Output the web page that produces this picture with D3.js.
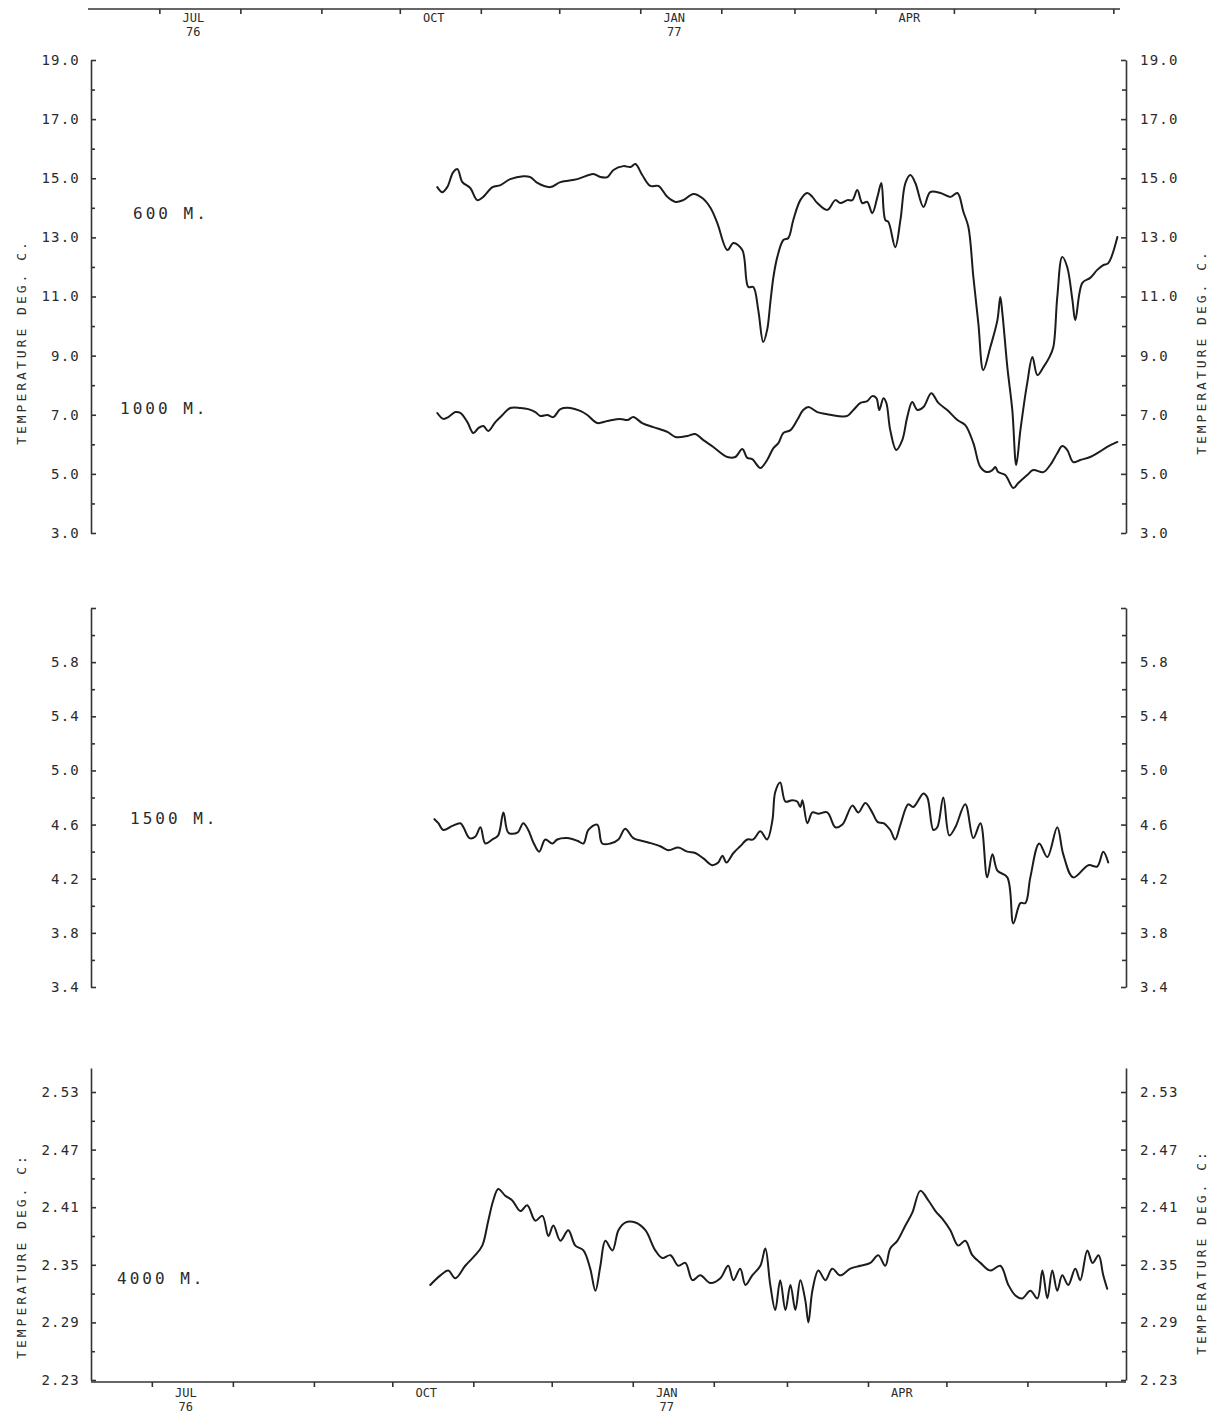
<!DOCTYPE html>
<html><head><meta charset="utf-8">
<script src="https://cdn.jsdelivr.net/npm/d3@7"></script>
<style>
html,body{margin:0;padding:0;background:#fff;}
svg{display:block;}
text{font-family:"DejaVu Sans Mono","Liberation Mono",monospace;fill:#2b2b2b;}
</style></head><body>
<svg id="chart" width="1217" height="1416"></svg>
<script>
// ---------------- DATA ----------------
// time axis: days since 1976-07-01
const recordStart = Date.UTC(1976, 6, 1);
const monthLabelDates = ["1976-07-14", "1976-10-14", "1977-01-14", "1977-04-14"];
const monthLabelTop = ["JUL", "OCT", "JAN", "APR"];
const monthLabelYear = ["76", "", "77", ""];

const depthLabels = ["600 M.", "1000 M.", "1500 M.", "4000 M."];
const axisTitleTop = "TEMPERATURE DEG. C.";
const axisTitleBottom = "TEMPERATURE DEG. C:";

// 600 m
const day600 = [107.5,109.4,111.3,113.6,115.2,117.1,120.1,122.8,125.1,128.6,131.7,135.4,140.4,143.1,145.8,150.7,154.6,161.1,167.2,169.9,172.6,174.9,178.7,181.4,183.3,185.9,189.0,192.1,195.5,198.6,201.6,205.5,208.9,212.0,214.6,218.5,220.8,224.2,226.5,228.4,230.3,232.2,233.7,234.9,236.1,237.6,239.9,241.8,243.7,246.4,249.0,251.0,252.9,256.7,259.8,261.7,264.4,266.3,268.2,270.1,272.0,273.9,275.9,277.4,278.9,280.1,282.7,284.7,286.6,288.5,290.4,293.5,296.1,300.0,303.8,306.5,308.8,310.7,312.6,314.5,316.4,319.1,321.8,322.9,323.7,325.6,327.5,329.0,330.6,333.2,335.2,337.1,339.4,341.7,343.2,344.7,346.6,348.5,350.5,351.6,354.3,357.3,360.0,362.3,364.2,367.7];
const val600 = [14.70,14.53,14.70,15.21,15.31,14.87,14.67,14.26,14.37,14.70,14.77,14.97,15.07,15.04,14.84,14.70,14.87,14.97,15.14,15.04,15.04,15.28,15.41,15.38,15.48,15.11,14.74,14.74,14.37,14.20,14.26,14.47,14.33,14.00,13.49,12.57,12.81,12.57,11.32,11.32,10.54,9.46,9.87,10.78,11.66,12.34,12.91,12.98,13.59,14.26,14.50,14.37,14.16,13.93,14.26,14.16,14.26,14.26,14.60,14.16,14.20,13.82,14.37,14.84,13.59,13.52,12.67,13.59,14.84,15.11,14.84,14.03,14.53,14.50,14.37,14.50,13.86,13.35,11.66,10.10,8.51,9.29,10.20,10.98,10.44,8.61,7.16,5.30,6.48,8.07,8.95,8.34,8.61,8.95,9.29,10.98,12.34,12.00,10.88,10.20,11.46,11.63,11.90,12.06,12.13,13.01];

// 1000 m
const day1000 = [107.5,109.8,111.7,114.4,116.3,119.0,121.3,123.2,125.1,127.0,129.7,132.4,135.4,139.3,142.3,145.0,146.9,149.6,151.9,154.6,158.4,162.2,164.9,168.7,172.6,177.5,180.2,182.5,185.9,190.2,195.5,198.6,203.2,206.2,209.3,213.1,218.5,221.5,224.2,226.1,228.0,231.1,233.7,236.1,238.0,239.9,242.6,245.2,247.5,249.5,252.9,256.7,260.5,264.4,266.7,269.4,272.0,273.9,275.5,276.6,278.2,279.3,280.8,283.1,285.4,287.3,289.2,291.2,293.5,296.5,299.2,302.6,306.5,309.5,312.6,315.3,317.9,319.9,321.0,322.1,324.8,327.9,329.8,333.2,335.5,339.4,342.0,344.7,346.6,348.5,350.8,353.5,357.3,360.0,363.8,367.7];
const val1000 = [7.06,6.86,6.92,7.09,7.06,6.75,6.38,6.55,6.62,6.45,6.75,6.99,7.23,7.23,7.19,7.09,6.96,6.99,6.92,7.19,7.23,7.13,6.99,6.72,6.79,6.86,6.82,6.92,6.72,6.58,6.42,6.25,6.28,6.35,6.14,5.91,5.57,5.57,5.84,5.54,5.50,5.20,5.47,5.87,6.04,6.38,6.48,6.82,7.16,7.26,7.09,7.02,6.96,6.96,7.16,7.40,7.46,7.63,7.56,7.16,7.56,7.40,6.48,5.81,6.14,6.92,7.43,7.16,7.26,7.73,7.40,7.16,6.82,6.65,6.04,5.23,5.06,5.13,5.23,5.06,4.96,4.52,4.69,4.96,5.13,5.06,5.30,5.70,5.94,5.81,5.40,5.47,5.57,5.70,5.91,6.08];

// 1500 m
const day1500 = [106.4,107.9,109.8,113.2,116.3,117.5,119.8,122.0,124.0,125.9,128.6,130.8,132.8,134.7,138.1,140.4,142.3,144.2,146.5,148.8,151.5,153.4,157.2,161.1,163.4,165.3,168.7,170.6,173.7,176.8,179.4,182.5,187.9,192.8,195.9,199.7,203.2,206.2,209.3,212.7,215.0,216.6,218.1,220.8,223.4,226.1,228.4,231.1,233.7,235.7,236.8,238.7,240.7,243.3,245.2,246.4,247.2,249.1,251.0,253.3,256.7,259.8,262.5,266.3,268.6,271.3,273.9,275.9,278.2,280.8,282.7,284.7,287.7,289.6,293.5,295.0,297.3,298.8,301.1,303.4,305.7,309.5,312.6,315.3,317.9,319.9,321.8,325.6,327.9,330.6,332.5,334.4,337.8,340.9,344.7,347.0,350.8,356.6,360.0,362.3,364.2];
const val1500 = [4.64,4.61,4.56,4.59,4.61,4.58,4.50,4.51,4.58,4.46,4.49,4.52,4.69,4.54,4.54,4.61,4.56,4.47,4.40,4.49,4.46,4.49,4.50,4.48,4.46,4.56,4.60,4.46,4.46,4.49,4.57,4.50,4.47,4.44,4.41,4.43,4.40,4.39,4.35,4.30,4.32,4.37,4.32,4.39,4.44,4.49,4.49,4.55,4.49,4.63,4.84,4.91,4.77,4.78,4.77,4.73,4.78,4.61,4.69,4.68,4.69,4.58,4.60,4.74,4.69,4.76,4.69,4.62,4.61,4.56,4.49,4.60,4.75,4.73,4.83,4.80,4.56,4.58,4.80,4.52,4.58,4.75,4.50,4.61,4.21,4.38,4.26,4.21,3.87,4.02,4.02,4.21,4.46,4.36,4.58,4.38,4.21,4.30,4.29,4.40,4.32];

// 4000 m
const day4000 = [104.8,108.7,111.7,114.4,118.2,122.0,124.7,127.0,128.9,130.8,133.5,136.2,139.3,141.9,145.0,147.7,150.0,151.9,154.6,157.6,160.3,163.4,166.0,168.0,169.9,171.8,174.5,176.8,179.4,183.3,187.1,190.9,193.6,196.7,199.7,202.4,205.1,208.1,212.0,215.8,218.8,220.8,223.4,225.4,228.0,231.1,233.0,234.9,236.8,238.7,240.7,242.6,244.5,246.4,248.3,249.5,251.0,253.3,256.0,258.6,261.7,265.5,269.4,273.2,276.2,278.9,280.8,283.5,286.6,289.2,292.3,295.4,298.1,300.7,303.8,306.8,309.5,312.2,315.3,319.1,322.9,326.0,328.7,331.3,334.4,337.1,339.0,340.9,342.8,344.7,346.6,348.9,351.6,353.5,356.2,358.2,360.5,362.3,363.8];
const val4000 = [2.329,2.339,2.344,2.336,2.349,2.360,2.370,2.396,2.417,2.429,2.422,2.417,2.406,2.412,2.396,2.401,2.380,2.391,2.375,2.386,2.370,2.365,2.346,2.323,2.349,2.375,2.365,2.386,2.394,2.394,2.386,2.365,2.357,2.360,2.349,2.352,2.334,2.339,2.331,2.336,2.349,2.334,2.346,2.329,2.339,2.349,2.367,2.329,2.303,2.334,2.303,2.329,2.303,2.334,2.313,2.290,2.323,2.344,2.334,2.346,2.339,2.346,2.349,2.352,2.360,2.349,2.367,2.375,2.391,2.404,2.427,2.417,2.406,2.398,2.386,2.370,2.375,2.360,2.352,2.344,2.349,2.329,2.318,2.315,2.323,2.315,2.344,2.315,2.344,2.323,2.339,2.329,2.346,2.334,2.365,2.352,2.360,2.339,2.325];

// y-axis tick values
const ticksA = [3,5,7,9,11,13,15,17,19];
const minorA = [4,6,8,10,12,14,16,18];
const ticksB = [3.4,3.8,4.2,4.6,5.0,5.4,5.8,6.2];
const labelledB = [3.4,3.8,4.2,4.6,5.0,5.4,5.8];
const minorB = [3.6,4.0,4.4,4.8,5.2,5.6,6.0];
const ticksC = [2.23,2.29,2.35,2.41,2.47,2.53];
const minorC = [2.26,2.32,2.38,2.44,2.50];

// ---------------- DRAW ----------------
const svg = d3.select("#chart");
const toDate = d => new Date(recordStart + d * 864e5);
const parse = d3.utcParse("%Y-%m-%d");

const L = 91, R = 1126;
const x = d3.scaleUtc()
  .domain([new Date(Date.UTC(1976,5,6)), new Date(Date.UTC(1977,6,7))])
  .range([L, R]);

const ink = "#1c1c1c";
const axisInk = "#333";

const panels = [
  {dom:[3,19], r:[533,60], ticks:ticksA, labelled:ticksA, minor:minorA, fmt:d3.format(".1f"),
   series:[{d:day600,v:val600,label:depthLabels[0],lx:133,ly:213},{d:day1000,v:val1000,label:depthLabels[1],lx:120,ly:408}],
   title:axisTitleTop, titleY:342, titleYR:352},
  {dom:[3.4,6.2], r:[987,608], ticks:ticksB, labelled:labelledB, minor:minorB, fmt:d3.format(".1f"),
   series:[{d:day1500,v:val1500,label:depthLabels[2],lx:130,ly:818}], title:null},
  {dom:[2.23,2.555], r:[1380,1068], ticks:ticksC, labelled:ticksC, minor:minorC, fmt:d3.format(".2f"),
   series:[{d:day4000,v:val4000,label:depthLabels[3],lx:117,ly:1278}],
   title:axisTitleBottom, titleY:1256, titleYR:1252}
];

panels.forEach(p => {
  const y = d3.scaleLinear().domain(p.dom).range(p.r);
  const lab = v => p.labelled.some(t => Math.abs(t - v) < 1e-9) ? p.fmt(v) : "";

  // left axis
  const gl = svg.append("g").attr("transform", `translate(${L},0)`);
  gl.call(d3.axisLeft(y).tickValues(p.ticks).tickSizeInner(-5).tickSizeOuter(0).tickPadding(11).tickFormat(lab));
  gl.append("g").call(d3.axisLeft(y).tickValues(p.minor).tickSizeInner(-4).tickSizeOuter(0).tickFormat(""))
    .select(".domain").remove();
  // right axis
  const gr = svg.append("g").attr("transform", `translate(${R},0)`);
  gr.call(d3.axisRight(y).tickValues(p.ticks).tickSizeInner(-5).tickSizeOuter(0).tickPadding(14).tickFormat(lab));
  gr.append("g").call(d3.axisRight(y).tickValues(p.minor).tickSizeInner(-4).tickSizeOuter(0).tickFormat(""))
    .select(".domain").remove();

  [gl, gr].forEach(g => {
    g.selectAll(".domain, line").attr("stroke", axisInk).attr("stroke-width", 1.6);
    g.selectAll("text").attr("font-size", 14).attr("letter-spacing", 1.2)
      .style("font-family", '"DejaVu Sans Mono",monospace').attr("fill", "#2b2b2b");
  });

  // series
  const line = d3.line().x(d => x(d[0])).y(d => y(d[1])).curve(d3.curveCatmullRom.alpha(0.5));
  p.series.forEach(s => {
    const pts = s.d.map((d, i) => [toDate(d), s.v[i]]);
    svg.append("path").datum(pts).attr("d", line)
      .attr("fill", "none").attr("stroke", ink).attr("stroke-width", 2)
      .attr("stroke-linejoin", "round").attr("stroke-linecap", "round");
    svg.append("text").attr("x", s.lx).attr("y", s.ly).attr("dy", "0.35em")
      .attr("font-size", 16).attr("letter-spacing", 3).text(s.label);
  });

  if (p.title) {
    svg.append("text").attr("transform", `translate(21,${p.titleY}) rotate(-90)`)
      .attr("text-anchor", "middle").attr("dy", "0.35em")
      .attr("font-size", 13).attr("letter-spacing", 3).text(p.title);
    svg.append("text").attr("transform", `translate(1201,${p.titleYR}) rotate(-90)`)
      .attr("text-anchor", "middle").attr("dy", "0.35em")
      .attr("font-size", 13).attr("letter-spacing", 3).text(p.title);
  }
});

// time axes (top and bottom)
const monthTicks = d3.utcMonth.range(new Date(Date.UTC(1976,6,1)), new Date(Date.UTC(1977,6,2)));
function timeAxis(yPos, shift, lineFrom, lineTo, labelY) {
  const g = svg.append("g").attr("transform", `translate(${shift},${yPos})`);
  g.call(d3.axisBottom(x).tickValues(monthTicks).tickSizeInner(5).tickSizeOuter(0).tickFormat(""));
  g.select(".domain").remove();
  g.selectAll("line").attr("stroke", axisInk).attr("stroke-width", 1.6);
  svg.append("line").attr("x1", lineFrom).attr("x2", lineTo).attr("y1", yPos).attr("y2", yPos)
    .attr("stroke", axisInk).attr("stroke-width", 1.6);
  monthLabelDates.forEach((ds, i) => {
    const cx = x(parse(ds)) + shift;
    svg.append("text").attr("x", cx).attr("y", labelY).attr("text-anchor", "middle")
      .attr("font-size", 12).attr("letter-spacing", 0).text(monthLabelTop[i]);
    if (monthLabelYear[i]) svg.append("text").attr("x", cx).attr("y", labelY + 14).attr("text-anchor", "middle")
      .attr("font-size", 12).attr("letter-spacing", 0).text(monthLabelYear[i]);
  });
}
timeAxis(9, 3, 88, 1120, 22);
timeAxis(1382, -4.5, L, R, 1397);
</script>
</body></html>
